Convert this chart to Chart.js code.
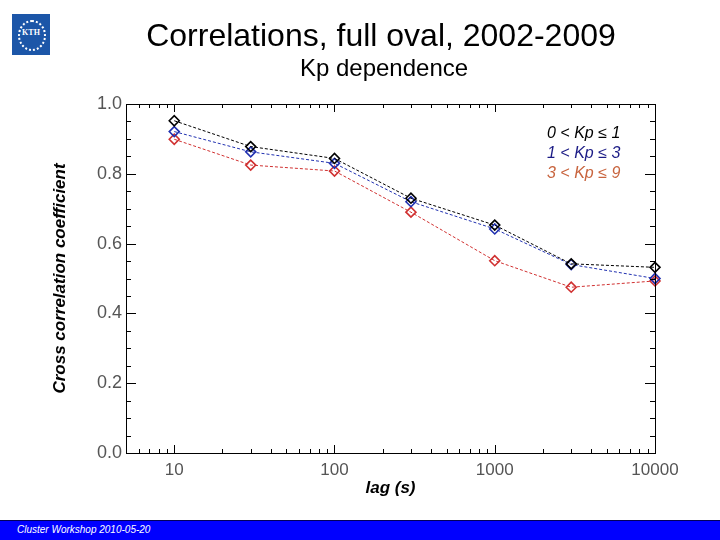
<!DOCTYPE html>
<html>
<head>
<meta charset="utf-8">
<script src="https://cdn.jsdelivr.net/npm/chart.js@4"></script>
<style>
  body { margin: 0; background: #fff; }
  #wrap { position: relative; width: 720px; height: 540px; overflow: hidden; }
  #logo { position: absolute; left: 12px; top: 14px; width: 38px; height: 41px; background: #1c56a8; }
  #logo .ring { position: absolute; left: 6px; top: 6px; width: 24px; height: 27px; border: 2px dotted #fff; border-radius: 50%; }
  #logo .txt { position: absolute; left: 0; width: 38px; top: 14px; text-align: center; color: #fff; font: bold 8px "Liberation Serif", serif; }
  #footer { position: absolute; left: 0; top: 520px; width: 720px; height: 20px; background: #0000ff; border-top: 1px solid #00005a; box-sizing: border-box; }
  #footer span { position: absolute; left: 17px; top: 3px; color: #fff; font: italic 10px "Liberation Sans", Arial, sans-serif; }
  canvas { position: absolute; left: 0; top: 0; }
</style>
</head>
<body>
<div id="wrap">
  <canvas id="corrChart" width="720" height="540"></canvas>
  <div id="logo"><div class="ring"></div><div class="txt">KTH</div></div>
  <div id="footer"><span>Cluster Workshop 2010-05-20</span></div>
</div>
<script>
// lag values (s)
const lags = [10, 30, 100, 300, 1000, 3000, 10000];
const xTickValues = [10, 100, 1000, 10000];

const kpLabels = ["0 < Kp \u2264 1", "1 < Kp \u2264 3", "3 < Kp \u2264 9"];
const kpLow = [0.952, 0.878, 0.844, 0.730, 0.653, 0.542, 0.532];
const kpMid = [0.921, 0.863, 0.830, 0.720, 0.642, 0.540, 0.500];
const kpHigh = [0.899, 0.825, 0.808, 0.690, 0.551, 0.475, 0.493];

const lineColors = ["#000000", "#2030b0", "#d03030"];
const textColors = ["#000000", "#1c1c86", "#c8643e"];

function series(vals, i) {
    return {
        label: kpLabels[i],
        data: lags.map((x, k) => ({ x: x, y: vals[k] })),
        borderColor: lineColors[i],
        backgroundColor: "transparent",
        borderWidth: 1,
        borderDash: [3, 2],
        pointStyle: "rectRot",
        pointRadius: 5,
        pointBorderWidth: 1.6,
        pointBackgroundColor: "rgba(0,0,0,0)",
        pointBorderColor: lineColors[i],
        tension: 0,
        fill: false,
        clip: false
    };
}

// box + inward tick marks, titles and legend text
const decorations = {
    id: "decorations",
    afterDraw(chart) {
        const ctx = chart.ctx;
        const a = chart.chartArea;
        const xs = chart.scales.x;
        const ys = chart.scales.y;
        ctx.save();
        ctx.strokeStyle = "#000";
        ctx.lineWidth = 1;
        ctx.strokeRect(a.left + 0.5, a.top + 0.5, a.right - a.left, a.bottom - a.top);

        ctx.beginPath();
        for (let i = 0; i <= 20; i++) {
            const v = i * 0.05;
            const py = Math.round(ys.getPixelForValue(v)) + 0.5;
            const len = (i % 4 === 0) ? 10 : 5;
            ctx.moveTo(a.left, py); ctx.lineTo(a.left + len, py);
            ctx.moveTo(a.right, py); ctx.lineTo(a.right - len, py);
        }
        for (let d = 1; d <= 1000; d *= 10) {
            for (let m = 1; m <= 9; m++) {
                const v = m * d;
                if (v < 5 || v > 10000) continue;
                const px = Math.round(xs.getPixelForValue(v)) + 0.5;
                const len = (m === 1) ? 8 : 4;
                ctx.moveTo(px, a.bottom); ctx.lineTo(px, a.bottom - len);
                ctx.moveTo(px, a.top); ctx.lineTo(px, a.top + len);
            }
        }
        ctx.stroke();

        ctx.fillStyle = "#000";
        ctx.textAlign = "center";
        ctx.textBaseline = "middle";
        ctx.font = "32px 'Liberation Sans', Arial, sans-serif";
        ctx.fillText("Correlations, full oval, 2002-2009", 381, 37);
        ctx.font = "24px 'Liberation Sans', Arial, sans-serif";
        ctx.fillText("Kp dependence", 384, 69);

        ctx.textAlign = "left";
        ctx.font = "italic 16px 'Liberation Sans', Arial, sans-serif";
        kpLabels.forEach((t, i) => {
            ctx.fillStyle = textColors[i];
            ctx.fillText(t, 547, 134 + i * 20);
        });
        ctx.restore();
    }
};

const ctx = document.getElementById("corrChart").getContext("2d");

new Chart(ctx, {
    type: "line",
    data: {
        datasets: [series(kpLow, 0), series(kpMid, 1), series(kpHigh, 2)]
    },
    options: {
        responsive: false,
        animation: false,
        layout: { padding: { top: 104, right: 65, left: 0, bottom: 0 } },
        plugins: {
            legend: { display: false },
            tooltip: { enabled: false }
        },
        scales: {
            x: {
                type: "logarithmic",
                min: 5,
                max: 10000,
                afterBuildTicks(scale) {
                    scale.ticks = xTickValues.map(v => ({ value: v }));
                },
                afterFit(scale) { scale.height = 87; },
                grid: { drawOnChartArea: false, drawTicks: false },
                border: { display: false },
                ticks: {
                    autoSkip: false,
                    maxRotation: 0,
                    padding: 7,
                    color: "#555",
                    font: { family: "'Liberation Sans', Arial, sans-serif", size: 17 },
                    callback: v => String(v)
                },
                title: {
                    display: true,
                    text: "lag (s)",
                    color: "#000",
                    font: { family: "'Liberation Sans', Arial, sans-serif", size: 17, style: "italic", weight: "bold" },
                    padding: { top: 0, bottom: 41 }
                }
            },
            y: {
                min: 0,
                max: 1,
                afterFit(scale) { scale.width = 126; },
                grid: { drawOnChartArea: false, drawTicks: false },
                border: { display: false },
                ticks: {
                    stepSize: 0.2,
                    padding: 4,
                    color: "#555",
                    font: { family: "'Liberation Sans', Arial, sans-serif", size: 18 },
                    callback: v => v.toFixed(1)
                },
                title: {
                    display: true,
                    text: "Cross correlation coefficient",
                    color: "#000",
                    font: { family: "'Liberation Sans', Arial, sans-serif", size: 17, style: "italic", weight: "bold" },
                    padding: { top: 50, bottom: 0 }
                }
            }
        }
    },
    plugins: [decorations]
});
</script>
</body>
</html>
